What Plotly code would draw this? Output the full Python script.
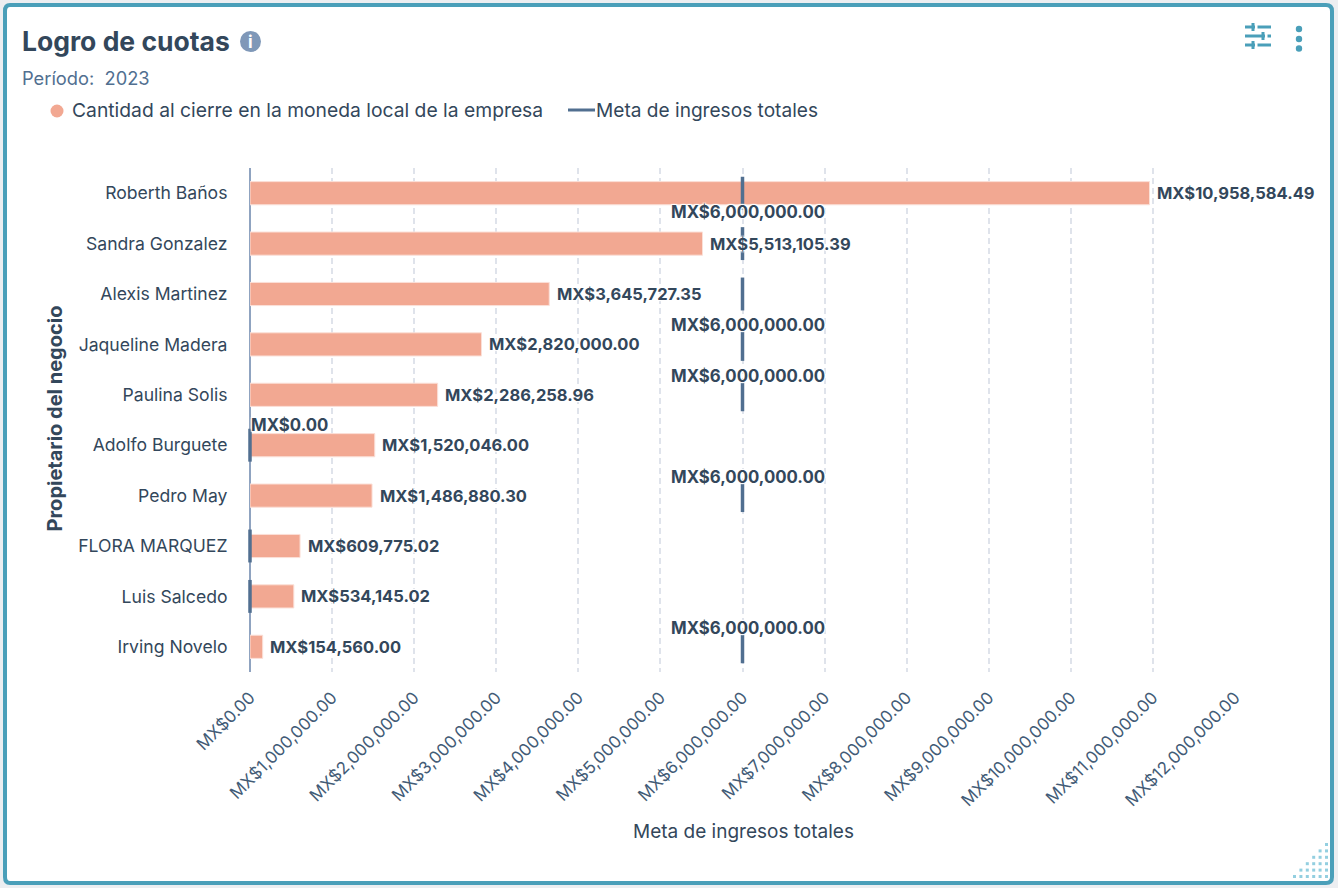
import plotly.graph_objects as go

W, H = 1338, 888
ML, MR, MT, MB = 250, 103, 168, 216
FONT = "Inter"
DARK = "#33475b"
SLATE = "#516f90"
TEAL = "#4a9fb9"

owners = ["Roberth Baños", "Sandra Gonzalez", "Alexis Martinez", "Jaqueline Madera", "Paulina Solis",
          "Adolfo Burguete", "Pedro May", "FLORA MARQUEZ", "Luis Salcedo", "Irving Novelo"]
closed = [10958584.49, 5513105.39, 3645727.35, 2820000.00, 2286258.96,
          1520046.00, 1486880.30, 609775.02, 534145.02, 154560.00]
target = [6000000, 6000000, 6000000, 6000000, 6000000, 0, 6000000, 0, 0, 6000000]
target_label_shift = [-19, None, None, 19, 19, 20, 19, None, None, 19]
ticks = list(range(0, 13000000, 1000000))


def money(v):
    return f"MX${v:,.2f}"


def px(x):
    return (x - ML) / (W - ML - MR)


def py(y):
    return (H - MB - y) / (H - MT - MB)


def rect(x0, y0, x1, y1, **kw):
    return dict(type="rect", xref="paper", yref="paper", x0=px(x0), x1=px(x1), y0=py(y0), y1=py(y1), **kw)


def seg(x0, y0, x1, y1, color, width):
    return dict(type="line", xref="paper", yref="paper", x0=px(x0), x1=px(x1), y0=py(y0), y1=py(y1),
                line=dict(color=color, width=width), layer="above")


def dot(cx, cy, r, color):
    return dict(type="circle", xref="paper", yref="paper", x0=px(cx - r), x1=px(cx + r),
                y0=py(cy + r), y1=py(cy - r), fillcolor=color, line=dict(width=0), layer="above")


def page_text(x, y, s, size, color, bold=False, anchor="left", angle=0):
    return dict(xref="paper", yref="paper", x=px(x), y=py(y), text=f"<b>{s}</b>" if bold else s,
                showarrow=False, xanchor=anchor, yanchor="middle", borderpad=0, borderwidth=0, textangle=angle,
                font=dict(family=FONT, size=size, color=color))


fig = go.Figure()
fig.add_trace(go.Bar(
    y=owners, x=closed, orientation="h", width=0.46,
    marker=dict(color="#f2a892", line=dict(color="#fbe0d8", width=1)),
    name="Cantidad al cierre en la moneda local de la empresa", showlegend=False, cliponaxis=False,
))
fig.add_trace(go.Scatter(
    y=owners, x=target, mode="markers", showlegend=False, cliponaxis=False,
    name="Meta de ingresos totales",
    marker=dict(symbol="line-ns", size=23.5, line=dict(color=SLATE, width=3.5), color=SLATE),
))

annotations = [
    page_text(22, 41, "Logro de cuotas", 26.5, DARK, bold=True),
    page_text(22, 78, "Período:  2023", 18.3, SLATE),
    page_text(72, 110, "Cantidad al cierre en la moneda local de la empresa", 19.3, DARK),
    page_text(596, 110, "Meta de ingresos totales", 19.1, DARK),
    page_text(250.5, 41.5, "<b>i</b>", 17, "#ffffff", anchor="center"),
    page_text(743, 831, "Meta de ingresos totales", 19, DARK, anchor="center"),
    page_text(54, 418.5, "Propietario del negocio", 20, DARK, bold=True, anchor="center", angle=-90),
]
halo = "-1px -1px 1px #fff, 1px -1px 1px #fff, -1px 1px 1px #fff, 1px 1px 1px #fff"
for owner, value in zip(owners, closed):
    annotations.append(dict(x=value, y=owner, xref="x", yref="y", text=f"<b>{money(value)}</b>", showarrow=False,
                            xanchor="left", yanchor="middle", xshift=6.5, borderpad=0,
                            font=dict(family=FONT, size=16.5, color=DARK, shadow=halo)))
for owner, value, shift in zip(owners, target, target_label_shift):
    if shift is not None:
        annotations.append(dict(x=value, y=owner, xref="x", yref="y", text=f"<b>{money(value)}</b>", showarrow=False,
                                xanchor="left" if value == 0 else "center", yanchor="middle", yshift=shift, borderpad=0,
                                xshift=0 if value == 0 else 5.5,
                                font=dict(family=FONT, size=16.8, color=DARK, shadow=halo)))

shapes = [
    dict(type="path", xref="paper", yref="paper", layer="below", fillcolor="#ffffff",
         line=dict(color=TEAL, width=4),
         path=(f"M {px(10)} {py(5)} L {px(1326)} {py(5)} Q {px(1332)} {py(5)} {px(1332)} {py(11)} "
               f"L {px(1332)} {py(877)} Q {px(1332)} {py(883)} {px(1326)} {py(883)} "
               f"L {px(10)} {py(883)} Q {px(5)} {py(883)} {px(5)} {py(877)} "
               f"L {px(5)} {py(11)} Q {px(5)} {py(5)} {px(10)} {py(5)} Z")),
    dot(57, 111, 6.5, "#f2a892"),
    seg(568, 110, 595, 110, SLATE, 3),
    dot(250.5, 41.5, 10.5, "#7f98b8"),
    seg(1245, 27, 1271, 27, TEAL, 3),
    seg(1245, 36, 1271, 36, TEAL, 3),
    seg(1245, 45, 1271, 45, TEAL, 3),
    seg(1253, 23, 1253, 31, TEAL, 3),
    seg(1263, 32, 1263, 40, TEAL, 3),
    seg(1253, 41, 1253, 49, TEAL, 3),
    rect(1255, 25, 1257.5, 29, fillcolor="#ffffff", line=dict(width=0), layer="above"),
    rect(1265, 34, 1267.5, 38, fillcolor="#ffffff", line=dict(width=0), layer="above"),
    rect(1255, 43, 1257.5, 47, fillcolor="#ffffff", line=dict(width=0), layer="above"),
    dot(1299, 29, 3.2, TEAL),
    dot(1299, 39, 3.2, TEAL),
    dot(1299, 48.5, 3.2, TEAL),
]
for row in range(6):
    for col in range(row + 1):
        x = 1326.5 - col * 6.4
        y = 876.5 - (5 - row) * 6.4
        shapes.append(rect(x - 1.5, y - 1.5, x + 1.5, y + 1.5, fillcolor="#93cfe0", line=dict(width=0), layer="above"))

fig.update_layout(
    width=W, height=H, autosize=False,
    margin=dict(l=ML, r=MR, t=MT, b=MB, pad=0),
    paper_bgcolor="#eceef1", plot_bgcolor="rgba(0,0,0,0)",
    showlegend=False, shapes=shapes, annotations=annotations,
    font=dict(family=FONT, size=16, color=DARK),
    xaxis=dict(range=[0, 12000000], tickmode="array", tickvals=ticks, ticktext=[money(t) for t in ticks],
               tickangle=-45, showgrid=True, gridcolor="#dfe3eb", griddash="6px,4px", gridwidth=1.5,
               zeroline=True, zerolinecolor="#8fa3c0", zerolinewidth=2,
               showline=False, ticks="outside", ticklen=8, tickcolor="rgba(0,0,0,0)",
               tickfont=dict(size=17, color="#425b76"), automargin=False),
    yaxis=dict(type="category", categoryorder="array", categoryarray=owners, range=[9.5, -0.5],
               showgrid=False, zeroline=False, showline=False,
               ticks="outside", ticklen=18, tickcolor="rgba(0,0,0,0)", tickfont=dict(size=17.6, color=DARK),
               automargin=False),
)
fig.write_html("out.html", post_script="document.body.style.margin='0';", config=dict(displayModeBar=False))
